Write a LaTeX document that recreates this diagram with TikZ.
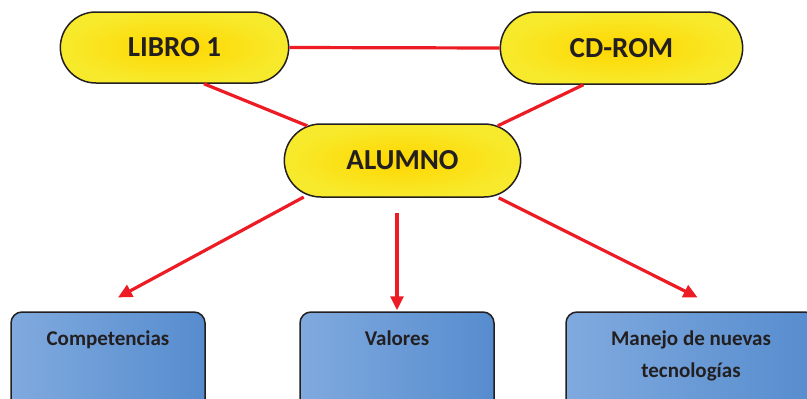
\documentclass[tikz,border=0pt]{standalone}
\usepackage{fontspec}
\setmainfont{Carlito}
\usetikzlibrary{positioning,shapes.misc,arrows.meta}
\definecolor{pillyellow}{RGB}{247,234,44}
\definecolor{pillgold}{RGB}{255,214,0}
\definecolor{boxlight}{RGB}{128,170,222}
\definecolor{boxdark}{RGB}{86,140,206}
\definecolor{linered}{RGB}{237,28,36}
\definecolor{textdark}{RGB}{35,31,32}
\tikzset{
	pill/.style={rounded rectangle, draw=textdark, line width=1.5pt, inner color=pillgold, outer color=pillyellow, font=\fontsize{29}{32}\selectfont\bfseries, text=textdark},
	box/.style={rectangle, rounded corners=11pt, draw=textdark, line width=1.5pt, left color=boxlight, right color=boxdark, minimum height=100pt},
	boxtext/.style={font=\fontsize{21}{32}\selectfont\bfseries, text=textdark, align=center, anchor=base},
	link/.style={linered, line width=3.2pt},
	arr/.style={linered, line width=3.2pt, -{Triangle[length=14pt,width=13pt]}}
}
\begin{document}
\begin{tikzpicture}[x=1pt,y=-1pt]
		\clip (0,0) rectangle (807,399);
		\node[pill, minimum width=235pt, minimum height=71pt] (libro) at (174.5,47.5) {LIBRO 1};
		\node[pill, minimum width=249pt, minimum height=72pt] (cdrom) at (621.5,48) {CD-ROM};
		\node[pill, minimum width=243pt, minimum height=73pt] (alumno) at (402.5,160.5) {ALUMNO};
		\node[box, minimum width=194pt] (comp) at (108,362) {};
		\node[box, minimum width=194pt] (valores) at (397,362) {};
		\node[box, minimum width=250pt] (manejo) at (691,362) {};
		\node[boxtext] (compT) at (108,345) {Competencias};
		\node[boxtext] (valoresT) at (397,345) {Valores};
		\node[boxtext] (manejoT) at (691,377) {Manejo de nuevas\\tecnologías};
		\draw[link] (libro.east) -- (cdrom.west);
		\draw[link] (libro.-51) -- (alumno.160.5);
		\draw[link] (cdrom.224) -- (alumno.20);
		\draw[arr, shorten <=4pt, shorten >=29pt] (alumno.200) -- (comp.107);
		\draw[arr, shorten <=15pt, shorten >=1pt] (valores.north |- alumno.south) -- (valores.north);
		\draw[arr, shorten <=4pt, shorten >=31pt] (alumno.-21.6) -- (manejo.56);
	\end{tikzpicture}
\end{document}
